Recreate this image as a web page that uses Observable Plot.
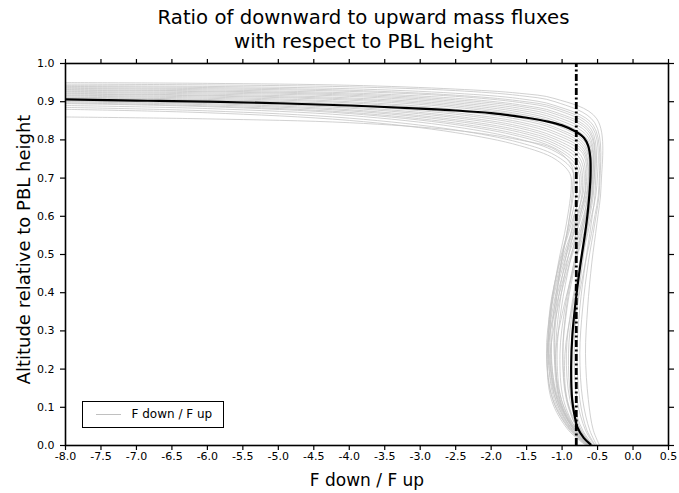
<!DOCTYPE html>
<html><head><meta charset="utf-8">
<script src="https://cdn.jsdelivr.net/npm/d3@7"></script>
<script src="https://cdn.jsdelivr.net/npm/@observablehq/plot@0.6"></script>
<style>
body{margin:0;background:#fff;font-family:"DejaVu Sans",sans-serif;}
#wrap{position:relative;width:679px;height:493px;overflow:hidden;}
#title{position:absolute;left:48px;width:631px;top:6px;text-align:center;font-size:19.7px;line-height:24px;color:#000;}
#chart{position:absolute;left:0;top:55px;}
#legend{position:absolute;left:82px;top:401px;width:140px;height:25px;border:1.5px solid #000;background:#fff;font-size:12px;}
#legend .ln{position:absolute;left:12.5px;top:12px;width:25px;height:0;border-top:1.3px solid #c0c0c0;}
#legend .tx{position:absolute;left:48.5px;top:4.5px;}
</style></head>
<body>
<div id="wrap">
  <div id="title">Ratio of downward to upward mass fluxes<br>with respect to PBL height</div>
  <div id="chart"></div>
  <div id="legend"><div class="ln"></div><div class="tx">F down / F up</div></div>
</div>
<script>
// ---- data ----
const xTicks = [-8.0,-7.5,-7.0,-6.5,-6.0,-5.5,-5.0,-4.5,-4.0,-3.5,-3.0,-2.5,-2.0,-1.5,-1.0,-0.5,0.0,0.5];
const yTicks = [0.0,0.1,0.2,0.3,0.4,0.5,0.6,0.7,0.8,0.9,1.0];
const refX = -0.80;               // dash-dot vertical reference line
// mean profile (x = F down / F up, y = altitude / PBL height)
const meanX = [-8.0,-7.0,-6.0,-5.0,-4.0,-3.0,-2.5,-2.0,-1.5,-1.2,-1.0,-0.81,-0.69,-0.633,-0.603,-0.598,-0.603,-0.633,-0.67,-0.74,-0.81,-0.855,-0.872,-0.858,-0.815,-0.785,-0.695,-0.60];
const meanY = [0.906,0.903,0.900,0.896,0.890,0.882,0.877,0.870,0.858,0.848,0.838,0.822,0.805,0.785,0.755,0.72,0.69,0.62,0.563,0.476,0.375,0.29,0.205,0.12,0.07,0.048,0.02,0.003];
// ensemble members: y at upperX, a bend point, then x at lowerY
const upperX = [-8,-6,-4,-2.5,-1.6,-1.1];
const lowerY = [0.68,0.58,0.48,0.36,0.24,0.12,0.04,0];
const memberUpper = [
 [0.950,0.948,0.943,0.933,0.922,0.908],
 [0.946,0.944,0.939,0.929,0.916,0.900],
 [0.942,0.940,0.934,0.922,0.908,0.890],
 [0.940,0.937,0.930,0.917,0.902,0.885],
 [0.937,0.934,0.927,0.914,0.898,0.880],
 [0.935,0.931,0.923,0.909,0.892,0.873],
 [0.932,0.928,0.920,0.905,0.888,0.868],
 [0.930,0.926,0.917,0.901,0.883,0.862],
 [0.927,0.923,0.914,0.897,0.878,0.856],
 [0.925,0.920,0.910,0.893,0.873,0.850],
 [0.922,0.917,0.907,0.889,0.868,0.845],
 [0.920,0.915,0.904,0.885,0.864,0.840],
 [0.917,0.912,0.900,0.880,0.858,0.833],
 [0.915,0.909,0.897,0.876,0.853,0.828],
 [0.912,0.906,0.893,0.871,0.847,0.821],
 [0.910,0.904,0.890,0.867,0.842,0.815],
 [0.907,0.900,0.886,0.862,0.836,0.808],
 [0.905,0.898,0.883,0.858,0.831,0.802],
 [0.902,0.895,0.879,0.853,0.825,0.796],
 [0.900,0.892,0.876,0.849,0.820,0.790],
 [0.897,0.889,0.872,0.844,0.814,0.784],
 [0.895,0.887,0.869,0.840,0.809,0.778],
 [0.890,0.882,0.864,0.834,0.802,0.770],
 [0.885,0.876,0.857,0.826,0.793,0.760],
 [0.880,0.871,0.851,0.819,0.785,0.750],
 [0.860,0.855,0.845,0.825,0.800,0.775]
];
const memberBend = [
 [-0.51,0.855],[-0.54,0.845],[-0.56,0.838],[-0.57,0.832],[-0.59,0.828],[-0.60,0.822],
 [-0.61,0.818],[-0.62,0.812],[-0.63,0.806],[-0.64,0.800],[-0.65,0.795],[-0.66,0.790],
 [-0.67,0.785],[-0.68,0.780],[-0.69,0.775],[-0.70,0.770],[-0.71,0.765],[-0.73,0.758],
 [-0.75,0.752],[-0.77,0.746],[-0.79,0.740],[-0.81,0.735],[-0.83,0.730],[-0.86,0.722],
 [-0.89,0.712],[-0.86,0.730]
];
const memberLower = [
 [-0.45,-0.51,-0.58,-0.64,-0.67,-0.63,-0.56,-0.47],
 [-0.47,-0.54,-0.63,-0.71,-0.75,-0.71,-0.61,-0.51],
 [-0.48,-0.56,-0.67,-0.79,-0.87,-0.85,-0.71,-0.56],
 [-0.51,-0.61,-0.73,-0.86,-0.96,-0.93,-0.77,-0.59],
 [-0.53,-0.59,-0.67,-0.75,-0.79,-0.75,-0.65,-0.53],
 [-0.56,-0.66,-0.81,-0.98,-1.09,-1.03,-0.81,-0.61],
 [-0.55,-0.63,-0.74,-0.85,-0.91,-0.87,-0.73,-0.57],
 [-0.58,-0.71,-0.89,-1.06,-1.16,-1.09,-0.86,-0.63],
 [-0.57,-0.64,-0.71,-0.79,-0.83,-0.79,-0.67,-0.54],
 [-0.59,-0.69,-0.83,-0.96,-1.03,-0.98,-0.79,-0.59],
 [-0.61,-0.73,-0.91,-1.09,-1.21,-1.13,-0.89,-0.65],
 [-0.59,-0.65,-0.75,-0.87,-0.94,-0.89,-0.74,-0.57],
 [-0.63,-0.76,-0.94,-1.11,-1.19,-1.11,-0.87,-0.63],
 [-0.61,-0.69,-0.81,-0.93,-0.99,-0.94,-0.77,-0.58],
 [-0.64,-0.79,-0.97,-1.13,-1.21,-1.15,-0.91,-0.66],
 [-0.63,-0.71,-0.83,-0.94,-0.99,-0.93,-0.75,-0.57],
 [-0.66,-0.81,-0.99,-1.15,-1.20,-1.09,-0.85,-0.63],
 [-0.67,-0.77,-0.89,-1.01,-1.07,-1.01,-0.81,-0.61],
 [-0.69,-0.83,-1.01,-1.16,-1.22,-1.13,-0.88,-0.64],
 [-0.71,-0.81,-0.93,-1.04,-1.09,-1.03,-0.83,-0.61],
 [-0.73,-0.87,-1.03,-1.17,-1.19,-1.07,-0.83,-0.62],
 [-0.75,-0.85,-0.96,-1.07,-1.11,-1.04,-0.83,-0.61],
 [-0.79,-0.89,-1.04,-1.16,-1.18,-1.06,-0.82,-0.61],
 [-0.83,-0.91,-1.01,-1.11,-1.15,-1.07,-0.85,-0.63],
 [-0.87,-0.94,-1.05,-1.15,-1.16,-1.05,-0.81,-0.59],
 [-0.85,-0.91,-1.01,-1.09,-1.11,-1.01,-0.79,-0.58]
];
const xLabel = "F down / F up";
const yLabel = "Altitude relative to PBL height";

// ---- tables for Plot ----
const meanRows = meanX.map((x, i) => ({x, y: meanY[i]}));
const memberRows = [];
memberUpper.forEach((ys, k) => {
  ys.forEach((y, i) => memberRows.push({id: k, x: upperX[i], y}));
  memberRows.push({id: k, x: memberBend[k][0], y: memberBend[k][1]});
  memberLower[k].forEach((x, i) => memberRows.push({id: k, x, y: lowerY[i]}));
});

const chart = Plot.plot({
  width: 679, height: 438,
  marginTop: 8, marginBottom: 48, marginLeft: 65, marginRight: 11,
  style: {fontFamily: "DejaVu Sans, sans-serif", fontSize: "11px", background: "white", color: "black"},
  x: {domain: [-8, 0.5]},
  y: {domain: [0, 1]},
  marks: [
    Plot.line(memberRows, {x: "x", y: "y", z: "id", curve: "catmull-rom", stroke: "#c2c2c2", strokeWidth: 0.9, strokeOpacity: 0.85, clip: true}),
    Plot.ruleX([refX], {y1: 0, y2: 1, stroke: "black", strokeWidth: 2.8, strokeDasharray: "7,2.5,2,2.5"}),
    Plot.line(meanRows, {x: "x", y: "y", curve: "catmull-rom", stroke: "black", strokeWidth: 2.2, clip: true}),
    Plot.axisX({anchor: "bottom", ticks: xTicks, tickFormat: d => d.toFixed(1), tickSize: 5, tickPadding: 2, strokeWidth: 1.2, label: null, fontSize: 11}),
    Plot.axisX({anchor: "top", ticks: xTicks, tickFormat: () => "", tickSize: 5, strokeWidth: 1.2, label: null}),
    Plot.axisY({anchor: "left", ticks: yTicks, tickFormat: d => d.toFixed(1), tickSize: 5, tickPadding: 6, strokeWidth: 1.2, label: null, fontSize: 11}),
    Plot.axisY({anchor: "right", ticks: yTicks, tickFormat: () => "", tickSize: 5, strokeWidth: 1.2, label: null}),
    Plot.frame({stroke: "black", strokeWidth: 1.6}),
    Plot.text([xLabel], {frameAnchor: "bottom", lineAnchor: "middle", text: d => d, dy: 35, fontSize: 17}),
    Plot.text([yLabel], {frameAnchor: "left", textAnchor: "middle", lineAnchor: "middle", text: d => d, rotate: -90, dx: -41, dy: -5, fontSize: 18})
  ]
});
document.getElementById("chart").appendChild(chart);
</script>
</body></html>
